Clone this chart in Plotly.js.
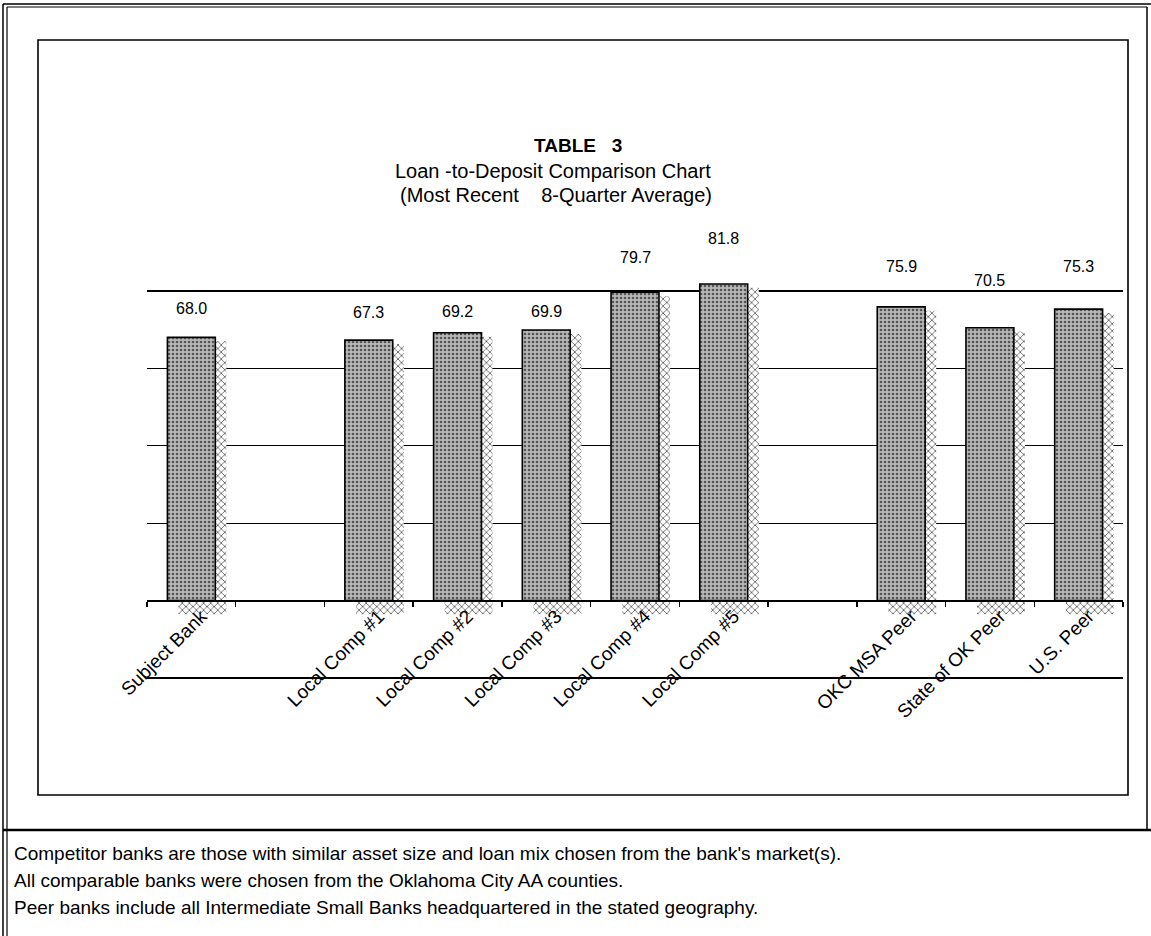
<!DOCTYPE html>
<html>
<head>
<meta charset="utf-8">
<script src="https://cdn.plot.ly/plotly-3.0.1.min.js"></script>
<style>
  html, body { margin: 0; padding: 0; background: #ffffff; }
  #chart { width: 1151px; height: 936px; }
</style>
</head>
<body>
<div id="chart"></div>
<script>
// ---- Data ----
const categories = ["Subject Bank", " ", "Local Comp #1", "Local Comp #2", "Local Comp #3",
                    "Local Comp #4", "Local Comp #5", "  ", "OKC MSA Peer", "State of OK Peer", "U.S. Peer"];
const ltdValues = [68.0, null, 67.3, 69.2, 69.9, 79.7, 81.8, null, 75.9, 70.5, 75.3];
const titleLines = ["TABLE   3", "Loan -to-Deposit Comparison Chart", "(Most Recent    8-Quarter Average)"];
const footnotes = [
  "Competitor banks are those with similar asset size and loan mix chosen from the bank's market(s).",
  "All comparable banks were chosen from the Oklahoma City AA counties.",
  "Peer banks include all Intermediate Small Banks headquartered in the stated geography."
];

// ---- Layout helpers (styling only) ----
const W = 1151, H = 936;
const M = {l: 147, r: 28, t: 200, b: 256};
const PW = W - M.l - M.r, PH = H - M.t - M.b;
const px = x => (x - M.l) / PW;
const py = y => (H - M.b - y) / PH;
const yRange = [-20.5, 103.5];
const labelShift = [29, 0, 28, 21, 19, 35, 46, 0, 40, 47, 43];
const FONT = "Liberation Sans, Arial, sans-serif";

const barWidth = 0.54;
const shadowDx = 0.125;

const mainBars = {
  type: "bar",
  x: categories,
  y: ltdValues,
  width: barWidth,
  offset: -barWidth / 2,
  marker: {
    color: "#b0b0b0",
    line: {color: "#000000", width: 1.6},
    pattern: {shape: ".", fgcolor: "#555555", bgcolor: "#b8b8b8", size: 4, solidity: 0.35}
  },
  hoverinfo: "x+y",
  showlegend: false
};

const shadowBars = {
  type: "bar",
  x: categories,
  y: ltdValues.map(v => v === null ? null : v + 2.5),
  base: -3.5,
  width: barWidth,
  offset: -barWidth / 2 + shadowDx,
  marker: {
    color: "#ffffff",
    line: {width: 0},
    pattern: {shape: "x", fgcolor: "#3a3a3a", bgcolor: "#ffffff", size: 5, solidity: 0.25}
  },
  hoverinfo: "skip",
  showlegend: false
};

const annotations = [];
categories.forEach((c, i) => {
  if (ltdValues[i] === null) return;
  annotations.push({
    x: c, y: ltdValues[i], xref: "x", yref: "y",
    text: ltdValues[i].toFixed(1), showarrow: false,
    yanchor: "middle", yshift: labelShift[i],
    font: {family: FONT, size: 16, color: "#000"}
  });
});
const titleY = [146, 171, 195];
const titleX = [578, 553, 556];
titleLines.forEach((t, i) => {
  annotations.push({
    xref: "paper", yref: "paper", x: px(titleX[i]), y: py(titleY[i]),
    xanchor: "center", yanchor: "middle", showarrow: false,
    text: i === 0 ? "<b>" + t + "</b>" : t,
    font: {family: FONT, size: i === 0 ? 19 : 20, color: "#000"}
  });
});
const footY = [853, 880, 907];
footnotes.forEach((t, i) => {
  annotations.push({
    xref: "paper", yref: "paper", x: px(12), y: py(footY[i]),
    xanchor: "left", yanchor: "middle", showarrow: false,
    text: t,
    font: {family: FONT, size: 19, color: "#000"}
  });
});

const line = (x0, y0, x1, y1, w) => ({
  type: "line", xref: "paper", yref: "paper",
  x0: px(x0), y0: py(y0), x1: px(x1), y1: py(y1),
  line: {color: "#000", width: w}
});
const shapes = [
  line(3, 4, 3, 936, 1.5),
  line(7, 7, 7, 936, 1.2),
  line(3, 4, 1151, 4, 1.5),
  line(7, 7, 1147, 7, 1.2),
  line(1147, 7, 1147, 830, 1.5),
  line(3, 830, 1151, 830, 2.5),
  {type: "rect", xref: "paper", yref: "paper",
   x0: px(38), y0: py(40), x1: px(1128), y1: py(795),
   line: {color: "#000", width: 1.6}, fillcolor: "rgba(0,0,0,0)"}
];

const layout = {
  width: W, height: H,
  margin: M,
  paper_bgcolor: "#ffffff",
  plot_bgcolor: "rgba(0,0,0,0)",
  barmode: "overlay",
  font: {family: FONT, color: "#000"},
  xaxis: {
    type: "category",
    categoryorder: "array",
    categoryarray: categories,
    anchor: "free",
    position: (0 - yRange[0]) / (yRange[1] - yRange[0]),
    showline: true, linecolor: "#000", linewidth: 2,
    ticks: "outside", tickson: "boundaries", ticklen: 5, tickcolor: "#000", tickwidth: 1.5,
    tickangle: -45,
    ticklabelshift: 10,
    ticklabelstandoff: -4,
    tickfont: {family: FONT, size: 19, color: "#000"},
    showgrid: false, zeroline: false,
    range: [-0.5, categories.length - 0.5],
    fixedrange: true
  },
  yaxis: {
    range: yRange,
    tickmode: "array",
    tickvals: [-20, 20, 40, 60, 80],
    showticklabels: false,
    showgrid: true, gridcolor: "#000", gridwidth: 1.3,
    zeroline: false, showline: false, ticks: "",
    fixedrange: true
  },
  annotations: annotations,
  shapes: shapes
};

Plotly.newPlot("chart", [shadowBars, mainBars], layout, {displayModeBar: false, staticPlot: true});
</script>
</body>
</html>
